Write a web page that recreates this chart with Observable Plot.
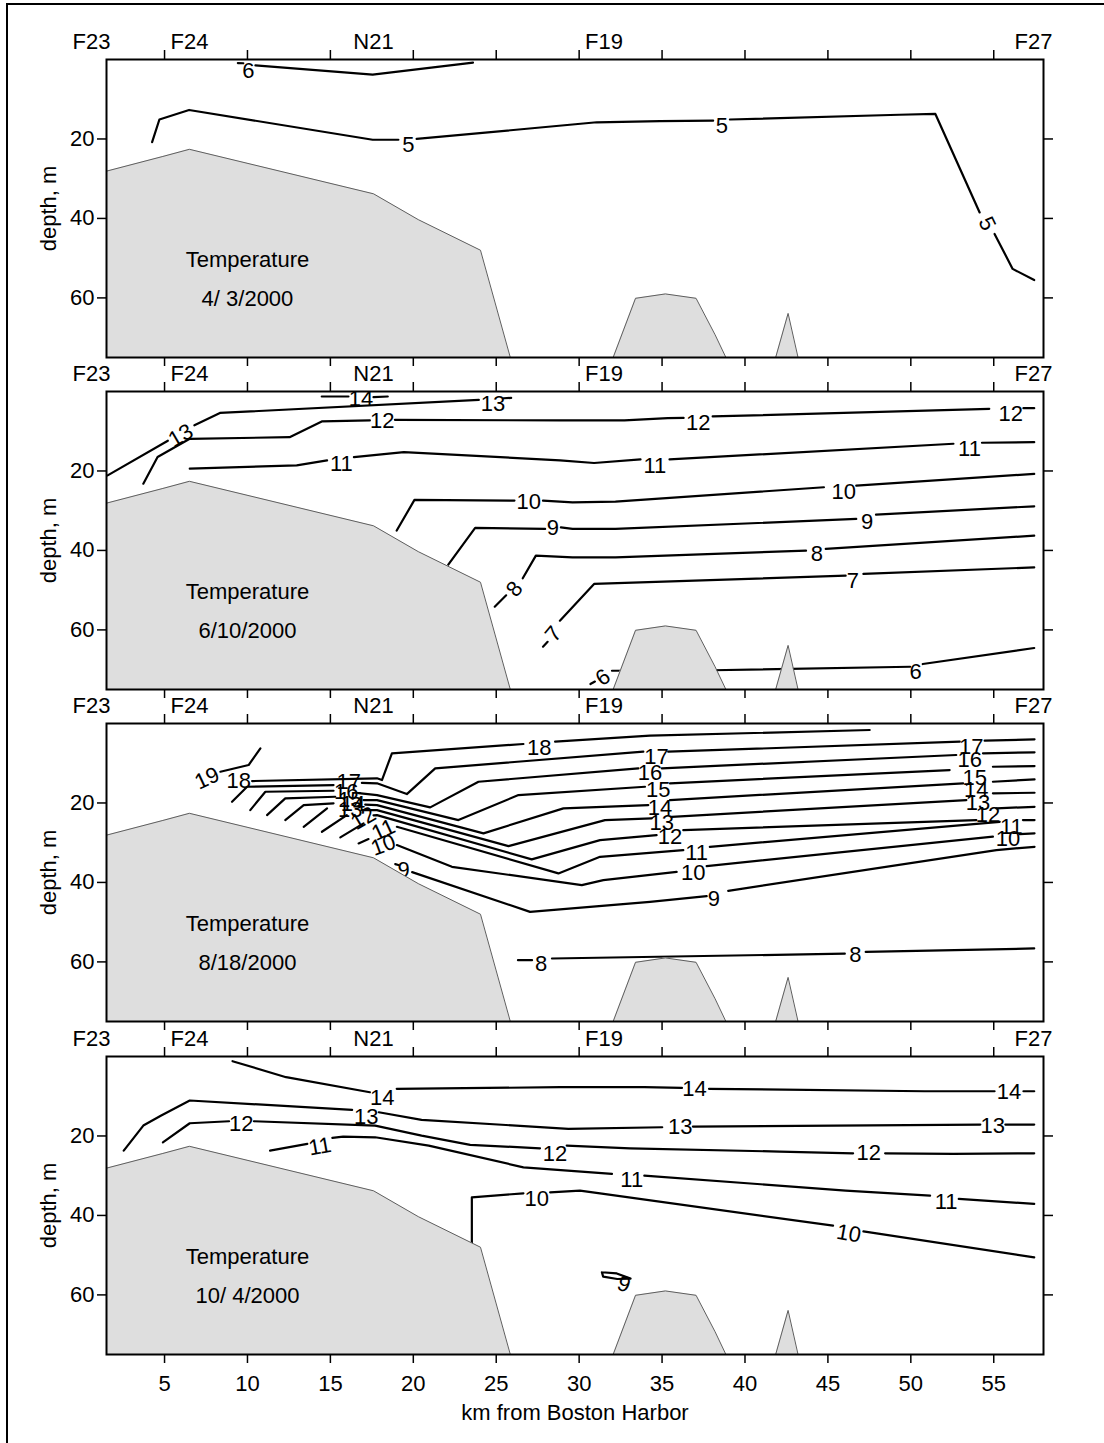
<!DOCTYPE html>
<html>
<head>
<meta charset="utf-8">
<script src="https://cdn.jsdelivr.net/npm/d3@7"></script>
<script src="https://cdn.jsdelivr.net/npm/@observablehq/plot@0.6"></script>
<style>
  body { margin: 0; background: #fff; }
  #chart { position: relative; width: 1104px; height: 1443px; overflow: hidden; background: #fff;
           font-family: "Liberation Sans", Arial, sans-serif; }
  #border { position: absolute; left: 6px; top: 3px; right: -10px; bottom: -10px;
            border-left: 2px solid #000; border-top: 2px solid #000; }
</style>
</head>
<body>
<div id="chart"><div id="border"></div></div>
<script>
// Transect stations along the section (km from Boston Harbor)
const stationNames = ["F23", "F24", "N21", "F19", "F27"];
const stationKm = [0.6, 6.5, 17.6, 31.5, 57.4];

const kmTicks = [5, 10, 15, 20, 25, 30, 35, 40, 45, 50, 55];
const depthTicks = [20, 40, 60];

// Sea-floor profile (depth in m, capped at the 75 m plot floor)
const seabedKm    = [1.5, 4.9, 6.5, 17.6, 20.3, 24.05, 25.85, 32.05, 33.4, 35.2, 37.05, 38.2, 38.85, 41.85, 42.6, 43.2, 58];
const seabedDepth = [28.1, 24.4, 22.6, 33.8, 40.3, 48.0, 75, 75, 60.1, 59.0, 60.1, 69.3, 75, 75, 63.9, 75, 75];

const surveyDates = ["4/ 3/2000", "6/10/2000", "8/18/2000", "10/ 4/2000"];

// Isotherms: path = [km, depth] vertices (null = break for an inline label),
// labels = [km, depth, rotation]
const aprilContours = [
  {level: 6, path: [[9.42,0.9],[9.75,0.95], null, [10.48,1.5],[17.55,3.8],[23.6,0.8]],
   labels: [[10.05,2.9,0]]},
  {level: 5, path: [[4.25,20.8],[4.69,15.1],[6.48,12.7],[17.55,20.2],[19.1,20.2], null,
                    [20.2,20.0],[31.06,15.8],[34.87,15.5],[38.08,15.4], null,
                    [39.09,15.1],[49.3,13.9],[51.48,13.7],[54.15,38.5], null,
                    [55.05,43.9],[56.14,52.7],[57.44,55.5]],
   labels: [[19.7,21.4,0],[38.6,16.6,0],[54.6,41.3,64]]}
];

const juneContours = [
  {level: 14, path: [[14.48,1.26],[16.09,1.26], null, [17.6,1.43],[18.46,1.26]],
   labels: [[16.84,1.84,0]]},
  {level: 13, path: [[1.57,21.1],[5.2,12.4], null, [6.8,8.5],[8.34,5.4],[23.95,2.1], null, [25.45,1.7],[25.9,1.6]],
   labels: [[5.98,11.1,-30],[24.81,3.1,0]]},
  {level: 12, path: [[3.72,23.2],[4.58,16.5],[6.52,11.9],[12.54,11.5],[14.48,7.54],[17.38,7.29], null,
                     [18.89,7.12],[28.85,7.29],[32.73,7.29],[35.34,6.71],[36.3,6.65], null,
                     [38.05,6.28],[54.73,4.35], null, [56.79,4.2],[57.44,4.2]],
   labels: [[18.13,7.4,0],[37.18,7.87,0],[56.03,5.6,0]]},
  {level: 11, path: [[6.52,19.42],[12.97,18.59],[14.8,17.34], null,
                     [16.42,16.5],[19.43,15.24],[28.85,17.34],[30.9,18.0],[33.7,17.09], null,
                     [35.45,17.09],[52.57,13.15], null, [54.29,12.9],[57.44,12.74]],
   labels: [[15.66,18.17,0],[34.57,18.78,0],[53.54,14.41,0]]},
  {level: 10, path: [[19.0,35.0],[20.07,27.28],[26.1,27.46], null,
                     [27.82,27.46],[29.6,27.88],[32.19,27.7],[44.76,24.1], null,
                     [46.71,23.68],[57.44,20.73]],
   labels: [[26.96,27.88,0],[45.96,25.36,0]]},
  {level: 9, path: [[22.11,43.58],[23.73,34.33],[27.95,34.58], null,
                    [28.9,34.18],[29.6,34.58],[32.19,34.58],[46.71,32.07], null,
                    [47.9,30.98],[57.44,28.89]],
   labels: [[28.42,34.4,0],[47.36,32.92,0]]},
  {level: 8, path: [[24.91,54.16],[25.6,51.3], null, [26.6,47.0],[27.39,41.31],[29.6,41.74],[32.19,41.74],[43.68,40.05], null,
                    [44.87,39.62],[57.44,36.27]],
   labels: [[26.1,49.7,-50],[44.33,40.88,0]]},
  {level: 7, path: [[27.82,64.23],[28.1,63.0], null, [28.84,57.68],[30.9,48.44],[46.07,46.35], null,
                    [47.14,45.92],[57.44,44.26]],
   labels: [[28.46,61.03,-50],[46.5,47.61,0]]},
  {level: 6, path: [[30.68,73.63],[30.95,73.0], null, [31.98,70.28],[38.05,70.15],[49.96,69.27], null,
                    [50.72,68.59],[57.44,64.56]],
   labels: [[31.44,71.96,-35],[50.29,70.7,0]]}
];

const augustContours = [
  {level: 19, path: [[8.37,12.14],[10.07,10.45],[10.78,6.25]],
   labels: [[7.56,13.8,-25]]},
  {level: 18, path: [[10.28,14.48],[17.81,13.8],[18.11,14.23],[18.71,7.51],[26.64,5.16], null,
                     [28.55,4.58],[34.27,3.07],[47.52,1.64]],
   labels: [[9.47,14.5,0],[27.6,6.25,0]]},
  {level: 17, path: [[9.07,19.7],[9.98,15.92],[15.19,15.49], null,
                     [16.9,14.95],[17.81,15.06],[19.61,17.76],[21.32,11.28],[33.87,7.1], null,
                     [35.37,7.1],[52.95,4.58], null, [54.45,4.33],[57.46,3.98]],
   labels: [[16.1,14.66,0],[34.67,8.36,0],[53.65,5.84,0]]},
  {level: 16, path: [[10.17,21.79],[11.08,17.18],[15.19,16.93], null,
                     [16.7,17.5],[17.81,18.01],[21.02,21.11],[23.93,14.66],[33.57,11.28], null,
                     [34.98,11.28],[52.74,7.93], null, [54.35,7.51],[57.46,7.25]],
   labels: [[15.96,17.25,0],[34.27,12.54,0],[53.55,9.19,0]]},
  {level: 15, path: [[11.18,23.05],[12.28,18.84],[15.29,18.44], null,
                     [17.0,19.27],[17.81,19.27],[22.72,24.31],[26.34,18.01],[33.97,15.92], null,
                     [35.48,15.06],[52.34,11.71], null, [54.95,10.88],[57.46,10.71]],
   labels: [[16.2,19.27,0],[34.77,16.75,0],[53.85,13.8,0]]},
  {level: 14, path: [[12.28,24.31],[13.39,20.53],[15.19,20.1], null,
                     [17.1,20.4],[17.81,20.53],[24.23,27.66],[29.05,21.36],[34.17,20.53], null,
                     [35.48,19.27],[53.15,15.06], null, [54.95,14.66],[57.46,14.06]],
   labels: [[16.36,20.15,0],[34.87,21.36,0],[53.95,16.75,0]]},
  {level: 13, path: [[13.39,26.0],[14.8,21.36], null,
                     [16.9,21.8],[17.81,21.79],[25.74,30.86],[31.56,24.31],[34.37,23.88], null,
                     [35.58,23.48],[53.35,19.27], null, [54.95,17.58],[57.46,17.43]],
   labels: [[16.2,21.79,0],[34.98,25.14,0],[54.05,20.1,0]]},
  {level: 12, path: [[14.49,27.25],[15.99,23.05], null,
                     [17.6,23.1],[17.81,23.05],[27.14,34.21],[31.26,29.35],[34.67,28.09], null,
                     [36.28,26.83],[53.95,24.31], null, [55.16,21.36],[57.46,20.96]],
   labels: [[16.99,23.88,-30],[35.48,28.51,0],[54.65,23.05,0]]},
  {level: 11, path: [[15.6,28.66],[17.0,25.14], null,
                     [19.01,26.0],[28.75,37.73],[31.26,33.55],[36.28,31.86], null,
                     [37.88,31.03],[55.36,24.74], null, [56.76,24.31],[57.46,24.31]],
   labels: [[18.2,26.83,-25],[37.08,32.7,0],[56.06,26.0,0]]},
  {level: 10, path: [[16.7,30.18],[17.3,29.09], null,
                     [19.01,30.6],[22.33,36.07],[30.16,40.68],[31.46,39.42],[35.88,37.33], null,
                     [37.69,35.89],[54.95,28.46], null, [56.56,27.83],[57.46,27.66]],
   labels: [[18.2,30.6,-20],[36.88,37.73,0],[55.86,29.17,0]]},
  {level: 9, path: [[18.91,35.39],[19.1,35.6], null,
                    [19.93,37.41],[27.04,47.41],[34.27,44.89],[37.69,43.45], null,
                    [38.99,42.12],[55.16,31.86],[57.46,31.03]],
   labels: [[19.41,36.9,0],[38.13,44.21,0]]},
  {level: 8, path: [[26.31,59.57],[27.16,59.57], null, [28.36,59.14],[46.02,57.93], null,
                    [47.28,57.48],[57.44,56.62]],
   labels: [[27.7,60.58,0],[46.65,58.31,0]]}
];

const octoberContours = [
  {level: 14, path: [[9.1,1.18],[12.33,5.21],[17.38,8.99], null,
                     [19.0,8.14],[28.85,7.73],[33.93,7.73],[36.2,7.9], null,
                     [37.83,8.14],[50.83,8.74],[55.05,8.74], null, [56.79,8.74],[57.44,8.74]],
   labels: [[18.13,10.33,0],[36.96,8.14,0],[55.92,8.99,0]]},
  {level: 13, path: [[2.54,23.68],[3.72,17.38],[4.8,14.86],[6.52,11.08],[16.31,13.43], null,
                     [17.92,14.03],[20.5,15.94],[29.35,18.21],[35.01,17.81], null,
                     [36.86,17.63],[54.19,17.13], null, [55.7,17.13],[57.44,17.13]],
   labels: [[17.16,15.29,0],[36.1,17.81,0],[54.94,17.38,0]]},
  {level: 12, path: [[4.9,21.59],[6.52,16.8],[8.89,16.3], null,
                     [10.39,16.3],[17.7,17.38],[20.5,19.9],[23.43,22.24],[27.64,23.1], null,
                     [29.25,22.42],[33.07,23.1],[42.1,23.93],[46.52,24.36], null,
                     [48.45,24.36],[52.57,24.51],[57.44,24.36]],
   labels: [[9.63,16.95,0],[28.55,24.51,0],[47.46,24.36,0]]},
  {level: 11, path: [[11.36,23.68],[13.61,21.99], null,
                     [15.12,20.48],[15.77,20.15],[17.7,20.33],[20.93,22.42],[26.64,27.89],[31.98,29.55], null,
                     [33.93,29.97],[46.07,33.75],[51.16,35.01], null, [52.89,35.84],[57.44,37.1]],
   labels: [[14.37,22.67,-10],[33.17,31.06,0],[52.13,36.7,0]]},
  {level: 10, path: [[23.53,47.18],[23.53,35.44],[26.64,34.43], null,
                     [28.25,34.18],[30.05,33.75],[31.26,34.43],[45.31,42.57], null,
                     [47.14,44.0],[57.44,50.55]],
   labels: [[27.44,35.84,0],[46.26,44.58,10]]},
  {level: 9, path: [[31.37,54.3],[32.27,54.6],[33.1,55.9],[32.3,56.0],[31.45,55.4],[31.37,54.3]],
   labels: [[32.7,57.3,20]]}
];

const surveys = [aprilContours, juneContours, augustContours, octoberContours];

// Page layout: top edge of each section frame and the frame height (px)
const panelTops = [59, 391, 723, 1056];
const frameHeight = 298;
const fontCss = "'Liberation Sans', Arial, sans-serif";

const seabed = seabedKm.map((km, i) => ({km, depth: seabedDepth[i]}));
const stations = stationNames.map((name, i) => ({name, km: stationKm[i]}));

function segmentsOf(contours) {
  const rows = [];
  contours.forEach((c, ci) => {
    let seg = 0;
    for (const p of c.path) {
      if (p === null) { seg++; continue; }
      rows.push({km: p[0], depth: p[1], seg: `${c.level}-${ci}-${seg}`});
    }
  });
  return rows;
}

function labelsOf(contours) {
  return contours.flatMap(c =>
    c.labels.map(([km, depth, angle]) => ({km, depth, angle, text: String(c.level)})));
}

const chart = document.getElementById("chart");

surveys.forEach((contours, i) => {
  const last = i === surveys.length - 1;
  const marginTop = 40;
  const marginBottom = last ? 80 : 14;
  const svg = Plot.plot({
    width: 1104,
    height: marginTop + frameHeight + marginBottom,
    marginLeft: 106,
    marginRight: 61,
    marginTop,
    marginBottom,
    style: `background:transparent;overflow:visible;font:22px ${fontCss};`,
    x: {domain: [1.5, 58]},
    y: {domain: [0, 75], reverse: true},
    marks: [
      Plot.line(segmentsOf(contours), {
        x: "km", y: "depth", z: "seg",
        stroke: "#000", strokeWidth: 2.2, strokeLinejoin: "round"
      }),
      Plot.text(labelsOf(contours), {
        x: "km", y: "depth", text: "text", rotate: "angle",
        fontSize: 22, fill: "#000"
      }),
      Plot.areaY(seabed, {x: "km", y1: "depth", y2: () => 75, fill: "#dedede"}),
      Plot.line(seabed, {x: "km", y: "depth", stroke: "#5e5e5e", strokeWidth: 1}),
      Plot.text(["Temperature"], {x: () => 10, y: () => 50.4, text: d => d, fontSize: 22, fill: "#000"}),
      Plot.text([surveyDates[i]], {x: () => 10, y: () => 60.2, text: d => d, fontSize: 22, fill: "#000"}),
      Plot.text(stations, {x: "km", frameAnchor: "top", lineAnchor: "middle", dy: -18,
                           text: "name", fontSize: 22, fill: "#000"}),
      Plot.text(["depth, m"], {frameAnchor: "left", textAnchor: "middle", lineAnchor: "middle",
                               dx: -58, rotate: -90, text: d => d, fontSize: 22, fill: "#000"}),
      Plot.frame({stroke: "#000", strokeWidth: 2}),
      Plot.axisY(depthTicks, {anchor: "left", tickSize: 9, tickPadding: 3, fontSize: 22, label: null, strokeWidth: 1.5}),
      Plot.axisY(depthTicks, {anchor: "right", tickSize: 9, tickFormat: () => "", label: null, strokeWidth: 1.5}),
      Plot.axisX(kmTicks, {anchor: "top", tickSize: 10, tickFormat: () => "", label: null, strokeWidth: 1.5}),
      Plot.axisX(kmTicks, {anchor: "bottom", tickSize: 9, tickPadding: 12, fontSize: 22,
                           tickFormat: last ? d => String(d) : () => "", label: null, strokeWidth: 1.5}),
      ...(last ? [Plot.text(["km from Boston Harbor"], {frameAnchor: "bottom", lineAnchor: "middle", dy: 58,
                                                        text: d => d, fontSize: 22, fill: "#000"})] : [])
    ]
  });
  svg.style.position = "absolute";
  svg.style.left = "0px";
  svg.style.top = `${panelTops[i] - marginTop}px`;
  chart.appendChild(svg);
});
</script>
</body>
</html>
